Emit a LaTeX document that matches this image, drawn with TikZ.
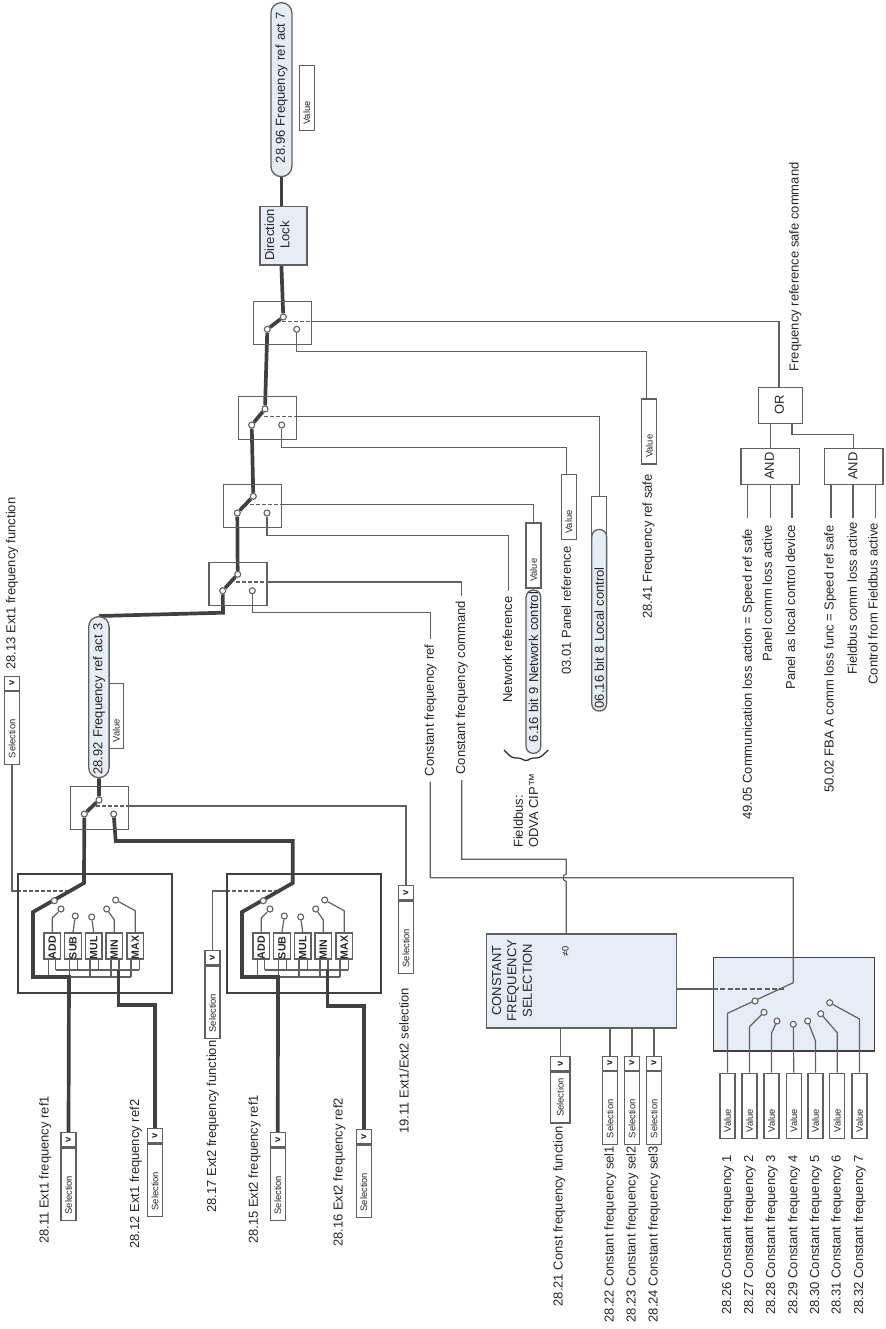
\documentclass[tikz,border=0pt]{standalone}
\usepackage{fontspec}
\setmainfont{Liberation Sans}
\usetikzlibrary{backgrounds}
\definecolor{refblue}{HTML}{E7EDF6}
\definecolor{wire}{HTML}{606060}
\definecolor{heavy}{HTML}{404040}
\newcommand{\selbox}[3]{%
  \node[selv] (#1) at (#2,#3) {v};
  \node[selcell] (#1b) at (#1.west) {Selection};}
\begin{document}
\begin{tikzpicture}[x=0.5pt, y=-0.5pt,
    every node/.style={font=\fontsize{6.5}{7.65}\selectfont, text=black!85},
    lbl/.style={rotate=90, anchor=west, inner xsep=2.5pt, inner ysep=0pt, text height=4.8pt, text depth=1.3pt},
    contact/.style={circle, draw=wire, fill=white, line width=0.55pt, minimum size=3pt, inner sep=0pt},
    swbox/.style={draw=wire, line width=0.65pt, anchor=north west, minimum width=29pt, minimum height=21.5pt},
    mixbox/.style={draw=heavy, line width=0.75pt, anchor=north west, minimum width=77pt, minimum height=59.5pt},
    funcbox/.style={draw=wire, line width=0.65pt, rotate=90, inner sep=0pt, minimum height=8.3pt, text width=13pt, align=left, font=\fontsize{5.3}{6}\selectfont\bfseries},
    valbox/.style={draw=wire, line width=0.65pt, rotate=90, anchor=east, inner xsep=3pt, inner ysep=0pt, minimum height=7.5pt, text width=26.5pt, align=left, font=\fontsize{4.7}{5.5}\selectfont},
    selv/.style={draw=wire, line width=0.65pt, rotate=90, anchor=east, inner sep=0pt, minimum width=7pt, minimum height=7.5pt, font=\fontsize{4.7}{5.5}\selectfont\bfseries},
    selcell/.style={draw=wire, line width=0.65pt, rotate=90, anchor=east, inner xsep=3pt, inner ysep=0pt, minimum height=7.5pt, text width=30.25pt, align=left, font=\fontsize{4.7}{5.5}\selectfont},
    pill/.style={draw=wire, line width=0.65pt, fill=refblue, rotate=90, anchor=west, inner ysep=0pt, align=left},
    block/.style={draw=wire, line width=0.65pt, anchor=north west, inner sep=0pt},
    link/.style={draw=wire, line width=0.6pt},
    flow/.style={draw=heavy, line width=1.85pt}]
  \useasboundingbox (0,0) rectangle (885,1329);

  % parameter selectors into the two mixers
  \selbox{sela1}{68.5}{1132}
  \selbox{sela2}{155}{1128}
  \selbox{selb1}{277.8}{1132}
  \selbox{selb2}{363.8}{1129}
  \selbox{sel13}{12}{675.7}
  \selbox{sel17}{212.5}{950}
  \selbox{sel19}{406}{885}
  \node[lbl] (l2811) at (45,1249.3) {28.11 Ext1 frequency ref1};
  \node[lbl] (l2812) at (135.7,1254) {28.12 Ext1 frequency ref2};
  \node[lbl] (l2815) at (254.3,1249.3) {28.15 Ext2 frequency ref1};
  \node[lbl] (l2816) at (339,1252.3) {28.16 Ext2 frequency ref2};
  \node[lbl] (l2813) at (12,675) {28.13 Ext1 frequency function};
  \node[lbl] (l2817) at (212.7,1218) {28.17 Ext2 frequency function};
  \node[lbl] (l1911) at (405,1139) {19.11 Ext1/Ext2 selection};

  % mixers
  \foreach \m/\dx in {a/0,b/209}{
    \node[mixbox] (mixer\m) at (\dx+17,873) {};
    \node[funcbox] (\m add) at (\dx+52.3,946) {ADD};
    \node[funcbox] (\m sub) at (\dx+73,946) {SUB};
    \node[funcbox] (\m mul) at (\dx+93.7,946) {MUL};
    \node[funcbox] (\m min) at (\dx+114.3,946) {MIN};
    \node[funcbox] (\m max) at (\dx+135.3,946) {MAX};
    \node[contact] (\m p0) at (\dx+54.3,900.7) {};
    \node[contact] (\m p1) at (\dx+61,909) {};
    \node[contact] (\m p2) at (\dx+75.3,916) {};
    \node[contact] (\m p3) at (\dx+91.7,917) {};
    \node[contact] (\m p4) at (\dx+106.7,909) {};
    \node[contact] (\m p5) at (\dx+115.7,900) {};
    \coordinate (dash\m) at (\dx+68,891);
  }

  % switches
  \node[swbox] (sw1) at (70,786) {};
  \node[contact] (sw1t) at (99,800) {};
  \node[contact] (sw1l) at (84.3,814) {};
  \node[contact] (sw1r) at (113.7,814) {};
  \coordinate (sw1d) at (96,806);
  \node[swbox] (sw2) at (208.3,561.7) {};
  \node[contact] (sw2t) at (237.7,574.3) {};
  \node[contact] (sw2l) at (222.7,590.7) {};
  \node[contact] (sw2r) at (252.3,590.7) {};
  \coordinate (sw2d) at (236,582);
  \node[swbox] (sw3) at (222.7,484) {};
  \node[contact] (sw3t) at (253.3,496.3) {};
  \node[contact] (sw3l) at (237.3,513) {};
  \node[contact] (sw3r) at (267,513) {};
  \coordinate (sw3d) at (250,504.7);
  \node[swbox] (sw4) at (237.7,396) {};
  \node[contact] (sw4t) at (265,409) {};
  \node[contact] (sw4l) at (251.7,425) {};
  \node[contact] (sw4r) at (281.7,425) {};
  \coordinate (sw4d) at (264,416.7);
  \node[swbox] (sw5) at (252.7,301) {};
  \node[contact] (sw5t) at (283.3,317) {};
  \node[contact] (sw5l) at (267.3,329.3) {};
  \node[contact] (sw5r) at (296.7,329.3) {};
  \coordinate (sw5d) at (282,321.7);

  % references
  \node[valbox] (valact3) at (116.3,682.7) {Value};
  \node[pill, rounded corners=5pt, inner xsep=1.6pt, minimum height=10.2pt, text width=77.3pt] (act3) at (98.9,778.3) {\mbox{28.92 Frequency ref act 3}};
  \node[valbox] (valact7) at (306.8,65) {Value};
  \node[pill, rounded corners=5.2pt, inner xsep=6.8pt, minimum height=10.5pt, text width=73.4pt] (act7) at (281.4,177.3) {\mbox{28.96 Frequency ref act 7}};
  \node[block, fill=refblue, minimum width=23.5pt, minimum height=29.2pt] (lock) at (259.3,206) {};
  \node[rotate=90, align=center] (locklbl) at (277,235) {Direction\\Lock};

  \node[valbox] (valnet) at (533.5,522.3) {Value};
  \node[pill, rounded corners=3.6pt, inner xsep=5.6pt, minimum height=7.4pt, text width=70.45pt] (netctl) at (533.4,754) {\mbox{6.16 bit 9 Network control}};
  \node[valbox] (valpanel) at (568.8,474) {Value};
  \node[valbox] (vallocal) at (599.2,495.7) {};
  \node[pill, rounded corners=3.6pt, inner xsep=1.4pt, minimum height=7.4pt, text width=88pt] (locctl) at (599.2,711.7) {06.16 bit 8 Local control};
  \node[valbox] (valsafe) at (649.2,398.3) {Value};
  \node[lbl] (lref) at (430.3,781.7) {Constant frequency ref};
  \node[lbl] (lcmd) at (461.7,780) {Constant frequency command};
  \node[lbl] (lnet) at (508.5,708) {Network reference};
  \node[rotate=90, anchor=west, inner xsep=2.5pt, inner ysep=0pt, align=left] (lbus) at (525.8,853.3) {Fieldbus:\\ODVA CIP™};
  \node[lbl] (lpanel) at (567.3,680) {03.01 Panel reference};
  \node[lbl] (lsafe) at (648.3,624.3) {28.41 Frequency ref safe};
  \draw[link, draw=black!85, rounded corners=1.5pt] (504,750) -- (511.7,757.7) -- (521.7,758.3) -- (526,761.7) -- (530,758.3) -- (540,757.7) -- (548.3,750);

  % safe command logic
  \node[block, minimum width=22pt, minimum height=18pt] (orbox) at (757.7,386.7) {};
  \node[rotate=90] (orlbl) at (779.5,405) {OR};
  \node[block, minimum width=29.3pt, minimum height=18.2pt] (and1) at (740.3,447.7) {};
  \node[rotate=90] (and1lbl) at (769.5,466) {AND};
  \node[block, minimum width=29.3pt, minimum height=18.2pt] (and2) at (823.7,447.7) {};
  \node[rotate=90] (and2lbl) at (853,466) {AND};
  \node[lbl] (lcom) at (795,376.7) {Frequency reference safe command};
  \node[lbl] (l4905) at (748.3,825) {49.05 Communication loss action = Speed ref safe};
  \node[lbl] (lpcl) at (768.3,666.7) {Panel comm loss active};
  \node[lbl] (lpld) at (791.7,695) {Panel as local control device};
  \node[lbl] (l5002) at (830,798) {50.02 FBA A comm loss func = Speed ref safe};
  \node[lbl] (lfcl) at (853.3,680) {Fieldbus comm loss active};
  \node[lbl] (lcfa) at (874,690) {Control from Fieldbus active};
  \foreach \n/\x in {11/747.7,12/770.7,13/792,21/831,22/853,23/875.3}
    \coordinate (in\n) at (\x,518);

  % constant frequency selection
  \node[block, fill=refblue, minimum width=95pt, minimum height=47pt] (cfs) at (485.7,933.3) {};
  \node[rotate=90, align=center] (cfslbl) at (512,980.5) {CONSTANT\\FREQUENCY\\SELECTION};
  \node[rotate=90, font=\fontsize{4.7}{5.5}\selectfont] (cfsne) at (565.3,951.7) {≠0};
  \node[selv, minimum height=9.7pt] (sel21) at (560.3,1056) {v};
  \node[selcell, minimum height=9.7pt, text width=19.5pt] (sel21b) at (sel21.west) {Selection};
  \selbox{sel22}{610}{1055.7}
  \selbox{sel23}{632}{1055.7}
  \selbox{sel24}{654}{1055.7}
  \node[lbl] (l2821) at (559,1311.7) {28.21 Const frequency function};
  \node[lbl] (l2822) at (610,1327.7) {28.22 Constant frequency sel1};
  \node[lbl] (l2823) at (632,1327.7) {28.23 Constant frequency sel2};
  \node[lbl] (l2824) at (654,1327.7) {28.24 Constant frequency sel3};
  \foreach \n/\p/\x in {1/26/727.5,2/27/749.5,3/28/771.5,4/29/793.8,5/30/815.5,6/31/837.2,7/32/859.5}{
    \node[valbox] (val\n) at (\x,1072.7) {Value};
    \node[lbl] (lcf\n) at (\x,1320) {28.\p{} Constant frequency \n};
  }
  \node[contact] (c0) at (755,1001) {};
  \node[contact] (c2) at (764,1012.3) {};
  \node[contact] (c3) at (777,1021) {};
  \node[contact] (c4) at (793.3,1024.3) {};
  \node[contact] (c5) at (807.7,1021) {};
  \node[contact] (c6) at (820.7,1013.7) {};
  \node[contact] (c7) at (829.7,1002.7) {};
  \coordinate (seld) at (785,989);
  \coordinate (hop) at (566.3,881.5);

  \begin{scope}[on background layer]
    \node[block, draw=heavy, fill=refblue, minimum width=80.7pt, minimum height=46.8pt] (selbg) at (712.7,956.7) {};

    % thin connectors
    \foreach \m/\dx in {a/0,b/209}{
      \draw[link] (\m p1) -- (\dx+52.3,918) -- (\m add.east);
      \draw[link] (\m p2) -- (\m sub.east);
      \draw[link] (\m p3) -- (\m mul.east);
      \draw[link] (\m p4) -- (\dx+114.3,920) -- (\m min.east);
      \draw[link] (\m p5) -- (\dx+135.3,910.7) -- (\m max.east);
      \foreach \lo/\up in {48.3/55.7,69.3/77.3,90/98.3,111/119,131/139.3}{
        \draw[link] (\dx+\lo,959) -- (\dx+\lo,977);
        \draw[link] (\dx+\up,959) -- (\dx+\up,970);
      }
      \draw[link] (\dx+55.7,970) -- (\dx+139.3,970);
      \draw[link] (\dx+69.3,977) -- (\dx+131,977);
      \draw[link, dashed, dash pattern=on 2pt off 1pt] (mixer\m.west |- dash\m) -- (dash\m);
    }
    \draw[link] (sel13b.west) |- (mixera.west |- dasha);
    \draw[link] (sel17.east) |- (mixerb.west |- dashb);

    \foreach \n in {1,...,5}
      \draw[link, dashed, dash pattern=on 2pt off 1pt] (sw\n d) -- (sw\n.east |- sw\n d);
    \draw[link] (sw1.east |- sw1d) -| (sel19.east);
    \draw[link] (sw2.east |- sw2d) -| (lcmd.east);
    \draw[link] (sw2r) -- (252.3,612.3) -| (lref.east);
    \draw[link] (sw3.east |- sw3d) -| (valnet.east);
    \draw[link] (sw3r) -- (267,535.7) -| (lnet.east);
    \draw[link] (sw4.east |- sw4d) -| (vallocal.east);
    \draw[link] (sw4r) -- (281.7,447.3) -| ([xshift=-1.25pt]valpanel.east);
    \draw[link] (sw5.east |- sw5d) -| ([xshift=-0.7pt]orbox.north);
    \draw[link] (sw5r) -- (296.7,351.7) -| ([xshift=-1.25pt]valsafe.east);

    \draw[link] (and1.north) -- (and1.north |- orbox.south);
    \draw[link] (and2.north) |- (792,434.3) -- (792,422.7);
    \foreach \n in {11,12,13}
      \draw[link] (in\n) -- (in\n |- and1.south);
    \foreach \n in {21,22,23}
      \draw[link] (in\n) -- (in\n |- and2.south);

    \draw[link] (lref.west) |- (793.3,877.7) -- (793.3,982.7) -- (727.5,1013.3) -- (val1.east);
    \draw[link] (lcmd.west) |- (566.3,859.3) -- (566.3,874) .. controls (562,875) and (562,880.5) .. (hop) -- (hop |- cfs.north);
    \foreach \n in {21,22,23,24}
      \draw[link] (sel\n.east) -- (sel\n.east |- cfs.south);
    \draw[link] (cfs.east |- seld) -- (selbg.west |- seld);
    \draw[link, dashed, dash pattern=on 2.5pt off 1.2pt] (selbg.west |- seld) -- (seld);
    \draw[link] (c2) -- (749.5,1026.7) -- (val2.east);
    \draw[link] (c3) -- (771.5,1033.3) -- (val3.east);
    \draw[link] (c4) -- (val4.east);
    \draw[link] (c5) -- (815.5,1041) -- (val5.east);
    \draw[link] (c6) -- (837.2,1032.7) -- (val6.east);
    \draw[link] (c7) -- (859.5,1019) -- (val7.east);

    % thick signal path
    \draw[flow] (sw1l) -- (84,883) -- (33,912) -- (33,977) -- (69,977) -- (sela1.east);
    \draw[flow] (118.5,970) -- (118.5,1005) -| (sela2.east);
    \draw[flow] (sw1r) -- (115.7,841) -| (292.7,883) -- (242,912) -- (242,977) -- (278,977) -- (selb1.east);
    \draw[flow] (327.5,970) -- (327.5,1006) -| (selb2.east);
    \draw[flow] (sw1l) -- (sw1t);
    \draw[flow] (sw1t) -- (act3.west);
    \draw[flow] (act3.east) -- (223,612.7) -- (sw2l);
    \draw[flow] (sw2l) -- (sw2t);
    \draw[flow] (sw2t) -- (sw3l);
    \draw[flow] (sw3l) -- (sw3t);
    \draw[flow] (sw3t) -- (sw4l);
    \draw[flow] (sw4l) -- (sw4t);
    \draw[flow] (sw4t) -- (sw5l);
    \draw[flow] (sw5l) -- (sw5t);
    \draw[flow] (sw5t) -- (act7.west |- lock.south);
    \draw[flow] (act7.west |- lock.north) -- (act7.west);
  \end{scope}
\end{tikzpicture}
\end{document}
